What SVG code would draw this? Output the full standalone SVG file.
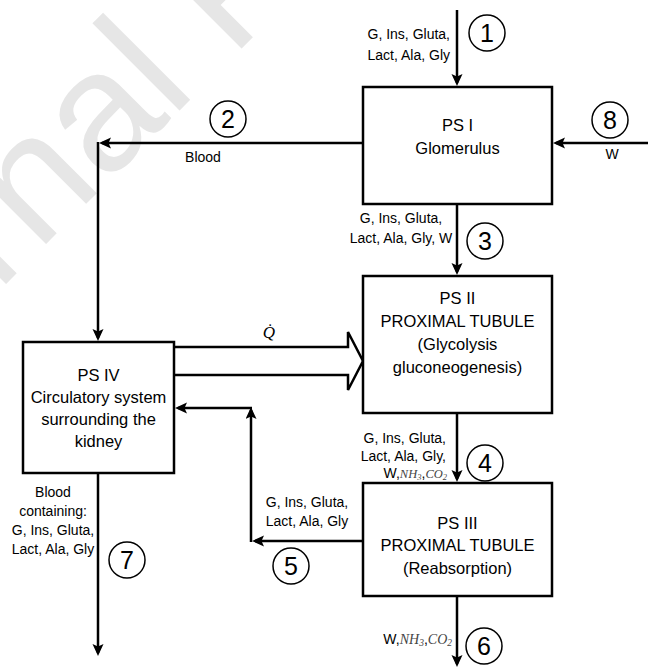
<svg xmlns="http://www.w3.org/2000/svg" width="648" height="668" viewBox="0 0 648 668">
<style>
.box{fill:#fff;stroke:#000;stroke-width:2.5}
.ln{fill:none;stroke:#000;stroke-width:2.5}
.cir{fill:#fff;stroke:#000;stroke-width:1.5}
.num{font-family:"Liberation Sans",Arial,sans-serif;font-size:25px;text-anchor:middle;fill:#000}
.bt{font-family:"Liberation Sans",Arial,sans-serif;font-size:16.5px;text-anchor:middle;fill:#000}
.lb{font-family:"Liberation Sans",Arial,sans-serif;font-size:14px;fill:#000}
.m{font-family:"Liberation Serif","Times New Roman",serif;font-style:italic;fill:#444}
.wm{font-family:"Liberation Sans",Arial,sans-serif;font-size:170px;fill:#e6e6e6}
</style>
<defs>
<marker id="ah" markerUnits="userSpaceOnUse" markerWidth="14" markerHeight="12" refX="9" refY="5.5" orient="auto">
<path d="M0,0 L12,5.5 L0,11 L2.5,5.5 z" fill="#000"/>
</marker>
</defs>
<rect width="648" height="668" fill="#fff"/>
<text class="wm" transform="translate(-196,486) rotate(-45)">Journal Pre-proof</text>

<g id="connectors">
<line class="ln" x1="457" y1="10" x2="457" y2="83" marker-end="url(#ah)"/>
<line class="ln" x1="363" y1="143" x2="102" y2="143" marker-end="url(#ah)"/>
<line class="ln" x1="98" y1="142" x2="98" y2="338" marker-end="url(#ah)"/>
<line class="ln" x1="648" y1="143" x2="556" y2="143" marker-end="url(#ah)"/>
<line class="ln" x1="457" y1="204" x2="457" y2="272" marker-end="url(#ah)"/>
<line class="ln" x1="457" y1="413" x2="457" y2="479" marker-end="url(#ah)"/>
<line class="ln" x1="457" y1="596" x2="457" y2="664" marker-end="url(#ah)"/>
<line class="ln" x1="98" y1="473" x2="98" y2="653" marker-end="url(#ah)"/>
<line class="ln" x1="363" y1="541" x2="255" y2="541" marker-end="url(#ah)"/>
<line class="ln" x1="251" y1="542" x2="251" y2="410" marker-end="url(#ah)"/>
<line class="ln" x1="252" y1="408" x2="178" y2="408" marker-end="url(#ah)"/>
<path class="ln" d="M174,347 H348 V332 L363,361 L348,390 V375 H174" fill="#fff" stroke-linejoin="miter"/>
<text x="269" y="338" font-family="Liberation Serif,'DejaVu Serif',serif" font-style="italic" font-size="17" text-anchor="middle">Q&#x307;</text>
</g>

<g id="ps1">
<rect class="box" x="363" y="87" width="189" height="117"/>
<text class="bt" x="457.5" y="131">PS I</text>
<text class="bt" x="457.5" y="154">Glomerulus</text>
</g>
<g id="ps2">
<rect class="box" x="363" y="276" width="189" height="137"/>
<text class="bt" x="457.5" y="304">PS II</text>
<text class="bt" x="457.5" y="327">PROXIMAL TUBULE</text>
<text class="bt" x="457.5" y="350">(Glycolysis</text>
<text class="bt" x="457.5" y="373">gluconeogenesis)</text>
</g>
<g id="ps3">
<rect class="box" x="363" y="483" width="189" height="113"/>
<text class="bt" x="457.5" y="529">PS III</text>
<text class="bt" x="457.5" y="551">PROXIMAL TUBULE</text>
<text class="bt" x="457.5" y="574">(Reabsorption)</text>
</g>
<g id="ps4">
<rect class="box" x="23" y="342" width="151" height="131"/>
<text class="bt" x="98.5" y="381">PS IV</text>
<text class="bt" x="98.5" y="403">Circulatory system</text>
<text class="bt" x="98.5" y="425">surrounding the</text>
<text class="bt" x="98.5" y="447">kidney</text>
</g>

<g id="labels">
<text class="lb" x="450" y="39" text-anchor="end">G, Ins, Gluta,</text>
<text class="lb" x="450" y="60" text-anchor="end">Lact, Ala, Gly</text>
<text class="lb" x="203" y="162" text-anchor="middle">Blood</text>
<text class="lb" x="612" y="159" text-anchor="middle">W</text>
<text class="lb" x="401" y="223" text-anchor="middle">G, Ins, Gluta,</text>
<text class="lb" x="401" y="243" text-anchor="middle">Lact, Ala, Gly, W</text>
<text class="lb" x="446" y="443" text-anchor="end">G, Ins, Gluta,</text>
<text class="lb" x="446" y="461" text-anchor="end">Lact, Ala, Gly,</text>
<text class="lb" x="447" y="478" text-anchor="end">W,<tspan class="m" font-size="12.5">NH</tspan><tspan class="m" font-size="8.5" dy="2">3</tspan><tspan dy="-2">,</tspan><tspan class="m" font-size="12.5">CO</tspan><tspan class="m" font-size="8.5" dy="2">2</tspan></text>
<text class="lb" x="307" y="507" text-anchor="middle">G, Ins, Gluta,</text>
<text class="lb" x="307" y="526" text-anchor="middle">Lact, Ala, Gly</text>
<text class="lb" x="452" y="644" text-anchor="end">W,<tspan class="m" font-size="14">NH</tspan><tspan class="m" font-size="9.5" dy="2">3</tspan><tspan dy="-2">,</tspan><tspan class="m" font-size="14">CO</tspan><tspan class="m" font-size="9.5" dy="2">2</tspan></text>
<text class="lb" x="53" y="497" text-anchor="middle">Blood</text>
<text class="lb" x="53" y="516" text-anchor="middle">containing:</text>
<text class="lb" x="53" y="535" text-anchor="middle">G, Ins, Gluta,</text>
<text class="lb" x="53" y="554" text-anchor="middle">Lact, Ala, Gly</text>
</g>

<g id="n1"><circle class="cir" cx="487" cy="33" r="18"/><text class="num" x="487" y="42">1</text></g>
<g id="n2"><circle class="cir" cx="228" cy="119" r="18"/><text class="num" x="228" y="128">2</text></g>
<g id="n3"><circle class="cir" cx="485" cy="241" r="18"/><text class="num" x="485" y="250">3</text></g>
<g id="n4"><circle class="cir" cx="485" cy="463" r="18"/><text class="num" x="485" y="472">4</text></g>
<g id="n5"><circle class="cir" cx="291" cy="566" r="18"/><text class="num" x="291" y="575">5</text></g>
<g id="n6"><circle class="cir" cx="484" cy="646" r="18"/><text class="num" x="484" y="655">6</text></g>
<g id="n7"><circle class="cir" cx="127" cy="560" r="18"/><text class="num" x="127" y="569">7</text></g>
<g id="n8"><circle class="cir" cx="610" cy="120" r="18"/><text class="num" x="610" y="129">8</text></g>
</svg>
